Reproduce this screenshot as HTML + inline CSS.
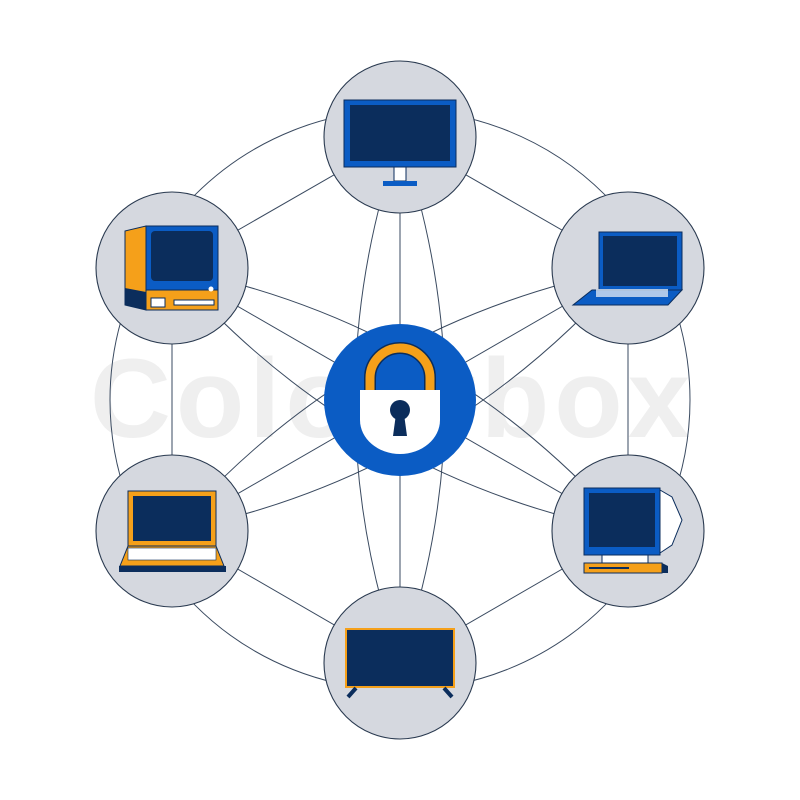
<!DOCTYPE html>
<html><head><style>html,body{margin:0;padding:0;background:#fff}svg{display:block}</style></head>
<body>
<svg width="800" height="800" viewBox="0 0 800 800" xmlns="http://www.w3.org/2000/svg">
<text x="390" y="437" text-anchor="middle" textLength="600" font-family="Liberation Sans, sans-serif" font-weight="bold" font-size="112" fill="#efefef">Colourbox</text>
<g fill="none" stroke="#3a4a60" stroke-width="1">
<circle cx="400" cy="400" r="290"/>
<polygon points="400,137 628,268 628,531 400,663 172,531 172,268"/>
<g id="e">
<line x1="400" y1="137" x2="400" y2="663"/>
<path d="M400,137 Q310,400 400,663"/>
<path d="M400,137 Q490,400 400,663"/>
</g>
<use href="#e" transform="rotate(60 400 400)"/>
<use href="#e" transform="rotate(120 400 400)"/>
</g>
<g fill="#d5d8df" stroke="#2a3a50" stroke-width="1.1">
<circle cx="400" cy="137" r="76"/>
<circle cx="628" cy="268" r="76"/>
<circle cx="628" cy="531" r="76"/>
<circle cx="400" cy="663" r="76"/>
<circle cx="172" cy="531" r="76"/>
<circle cx="172" cy="268" r="76"/>
</g>
<!-- center lock -->
<circle cx="400" cy="400" r="76" fill="#0b5cc4"/>
<path d="M370,392 V378 A30,30 0 0 1 430,378 V392" fill="none" stroke="#0b2d5c" stroke-width="12"/>
<path d="M370,392 V378 A30,30 0 0 1 430,378 V392" fill="none" stroke="#f5a01a" stroke-width="9"/>
<path d="M360,390 H440 V420 A40,34 0 0 1 360,420 Z" fill="#fff"/>
<circle cx="400" cy="410" r="10" fill="#0b2d5c"/>
<path d="M396,414 L393,436 H407 L404,414 Z" fill="#0b2d5c"/>
<!-- top monitor -->
<rect x="344" y="100" width="112" height="67" fill="#0b5cc4" stroke="#0b2d5c"/>
<rect x="350" y="105" width="100" height="56" fill="#0b2d5c"/>
<rect x="394" y="167" width="12" height="14" fill="#fff" stroke="#0b2d5c"/>
<rect x="383" y="181" width="34" height="5" fill="#0b5cc4"/>
<!-- top-right laptop -->
<rect x="599" y="232" width="83" height="58" fill="#0b5cc4" stroke="#0b2d5c"/>
<rect x="603" y="236" width="74" height="50" fill="#0b2d5c"/>
<polygon points="592,290 682,290 668,305 573,305" fill="#0b5cc4" stroke="#0b2d5c"/>
<rect x="596" y="289" width="72" height="8" fill="#d9e3f3" opacity="0.8"/>
<!-- top-left retro -->
<polygon points="125,231 146,226 146,310 125,305" fill="#f5a01a" stroke="#0b2d5c"/>
<polygon points="125,288 146,292 146,310 125,305" fill="#0b2d5c"/>
<rect x="146" y="226" width="72" height="64" fill="#0b5cc4" stroke="#0b2d5c"/>
<rect x="151" y="231" width="62" height="50" rx="4" fill="#0b2d5c"/>
<rect x="146" y="290" width="72" height="20" fill="#f5a01a" stroke="#0b2d5c"/>
<rect x="151" y="298" width="14" height="9" fill="#fff" stroke="#0b2d5c"/>
<rect x="174" y="300" width="40" height="5" fill="#fff" stroke="#0b2d5c"/>
<circle cx="211" cy="289" r="2.5" fill="#fff"/>
<!-- bottom-left laptop -->
<rect x="128" y="491" width="88" height="55" fill="#f5a01a" stroke="#0b2d5c"/>
<rect x="133" y="496" width="78" height="45" fill="#0b2d5c"/>
<polygon points="128,546 216,546 224,566 120,566" fill="#f5a01a" stroke="#0b2d5c"/>
<rect x="128" y="548" width="88" height="12" fill="#fff" stroke="#0b2d5c" stroke-width="0.6"/>
<rect x="119" y="566" width="107" height="6" fill="#0b2d5c"/>
<!-- bottom-right monitor -->
<polygon points="660,490 672,497 682,520 672,545 660,553" fill="#fff" stroke="#0b2d5c"/>
<rect x="584" y="488" width="76" height="67" fill="#0b5cc4" stroke="#0b2d5c"/>
<rect x="589" y="493" width="66" height="54" fill="#0b2d5c"/>
<rect x="602" y="555" width="46" height="8" fill="#fff" stroke="#0b2d5c"/>
<rect x="584" y="563" width="78" height="10" fill="#f5a01a" stroke="#0b2d5c"/>
<polygon points="662,563 668,566 668,573 662,573" fill="#0b2d5c"/>
<rect x="589" y="567" width="40" height="2" fill="#0b2d5c"/>
<!-- bottom TV -->
<rect x="345" y="628" width="110" height="60" fill="#f5a01a"/>
<rect x="347" y="630" width="106" height="56" fill="#0b2d5c"/>
<path d="M356,688 L348,697 M444,688 L452,697" stroke="#0b2d5c" stroke-width="4"/>
</svg>
</body></html>
